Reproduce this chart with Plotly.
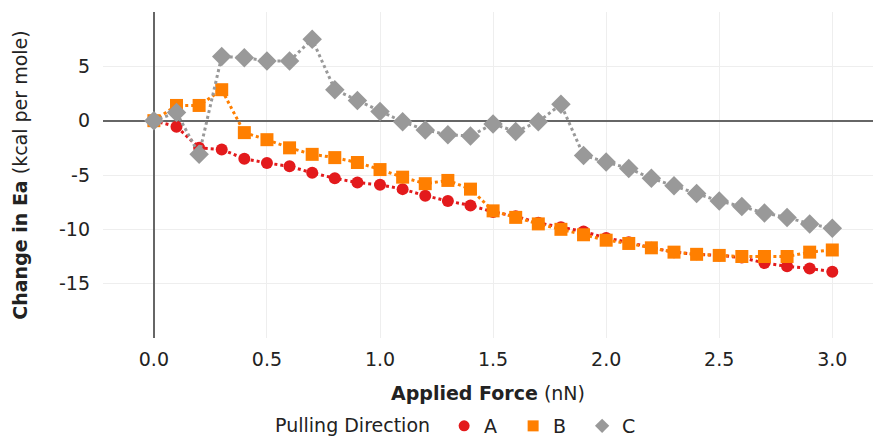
import plotly.graph_objects as go

force = [0.0, 0.1, 0.2, 0.3, 0.4, 0.5, 0.6, 0.7, 0.8, 0.9, 1.0,
         1.1, 1.2, 1.3, 1.4, 1.5, 1.6, 1.7, 1.8, 1.9, 2.0,
         2.1, 2.2, 2.3, 2.4, 2.5, 2.6, 2.7, 2.8, 2.9, 3.0]

series_a = [0.0, -0.55, -2.5, -2.65, -3.5, -3.9, -4.2, -4.8, -5.3, -5.7, -5.9,
            -6.3, -6.9, -7.4, -7.8, -8.4, -8.8, -9.4, -9.8, -10.2, -10.8,
            -11.2, -11.7, -12.1, -12.3, -12.4, -12.6, -13.1, -13.4, -13.6, -13.9]

series_b = [0.0, 1.4, 1.4, 2.85, -1.1, -1.75, -2.5, -3.1, -3.4, -3.85, -4.5,
            -5.2, -5.8, -5.5, -6.3, -8.3, -8.9, -9.5, -10.0, -10.5, -11.0,
            -11.3, -11.7, -12.1, -12.3, -12.4, -12.5, -12.5, -12.5, -12.1, -11.9]

series_c = [0.0, 0.75, -3.1, 5.9, 5.8, 5.5, 5.5, 7.5, 2.85, 1.85, 0.85,
            -0.1, -0.85, -1.3, -1.4, -0.3, -1.0, -0.1, 1.5, -3.2, -3.8,
            -4.4, -5.3, -6.0, -6.7, -7.4, -7.9, -8.5, -8.9, -9.5, -9.9]

names = ["A", "B", "C"]
y_ticks = [-15, -10, -5, 0, 5]
y_tick_labels = ["-15", "-10", "-5", "0", "5"]
x_ticks = [0.0, 0.5, 1.0, 1.5, 2.0, 2.5, 3.0]
x_tick_labels = ["0.0", "0.5", "1.0", "1.5", "2.0", "2.5", "3.0"]

colors = ["#E31A1C", "#FF7F00", "#999999"]
symbols = ["circle", "square", "diamond"]
sizes = [12, 13, 15]

fig = go.Figure()
for name, ys, col, sym, sz in zip(names, [series_a, series_b, series_c], colors, symbols, sizes):
    fig.add_trace(go.Scatter(
        x=force, y=ys, name=name, mode="lines+markers",
        line=dict(color=col, width=3, dash="dot"),
        marker=dict(color=col, symbol=sym, size=sz),
        showlegend=False, legendgroup=name,
    ))
# marker-only legend entries
for name, col, sym in zip(names, colors, symbols):
    fig.add_trace(go.Scatter(
        x=[None], y=[None], name=name, mode="markers",
        marker=dict(color=col, symbol=sym, size=11),
        showlegend=True, legendgroup=name,
    ))

font = "DejaVu Sans"
fig.update_layout(
    width=873, height=437,
    margin=dict(l=103, r=0, t=12, b=99, autoexpand=False),
    paper_bgcolor="white", plot_bgcolor="white",
    font=dict(family=font, size=19, color="#222"),
    showlegend=True,
    legend=dict(orientation="h", x=0.467, xanchor="center", y=-0.27, yanchor="middle",
                title=dict(text="Pulling Direction\u00a0", font=dict(size=19)),
                font=dict(size=19), itemwidth=30, tracegroupgap=0,
                entrywidth=24, entrywidthmode="pixels"),
    xaxis=dict(
        range=[-0.225, 3.18], tickvals=x_ticks, ticktext=x_tick_labels,
        showgrid=True, gridcolor="#eeeeee", gridwidth=1,
        zeroline=True, zerolinecolor="#666666", zerolinewidth=1.5,
        showline=False, ticks="", automargin=True, ticklabelstandoff=8,
        title=dict(text="<b>Applied Force</b> (nN)", font=dict(size=19), standoff=17),
    ),
    yaxis=dict(
        range=[-20, 10], tickvals=y_ticks, ticktext=y_tick_labels,
        showgrid=True, gridcolor="#eeeeee", gridwidth=1,
        zeroline=True, zerolinecolor="#666666", zerolinewidth=1.5,
        showline=False, ticks="", automargin=True, ticklabelstandoff=12,
        title=dict(text="<b>Change in Ea</b> (kcal per mole)", font=dict(size=19), standoff=26),
    ),
)

fig.write_html("out.html", post_script="document.body.style.margin='0';",
               config={"displayModeBar": False})
